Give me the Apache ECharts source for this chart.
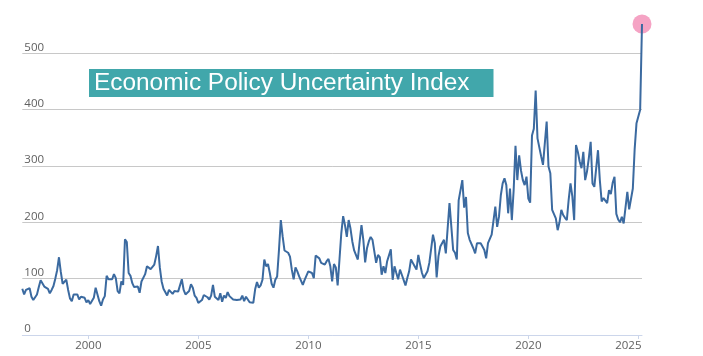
<!DOCTYPE html>
<html><head><meta charset="utf-8">
<script src="https://cdn.jsdelivr.net/npm/echarts@6/dist/echarts.min.js"></script>
<style>html,body{margin:0;padding:0;background:#fff}#c{width:703px;height:356px}</style>
</head><body><div id="c"></div>
<script>
// Monthly values, Jan 1997 .. Mar 2025
const startYear = 1997;
const epu1997 = [82,72,80,77,83,68,62,64,72,85,97,94];
const epu1998 = [86,83,82,74,80,87,100,115,138,112,91,89];
const epu1999 = [98,80,65,60,72,73,72,63,68,67,66,58];
const epu2000 = [62,55,58,66,84,82,60,52,63,69,105,99];
const epu2001 = [97,99,108,101,78,74,95,89,170,165,110,105];
const epu2002 = [92,85,83,86,75,95,98,108,122,119,117,120];
const epu2003 = [125,140,158,120,95,82,80,70,80,78,73,78];
const epu2004 = [78,77,77,99,80,72,71,78,90,84,70,66];
const epu2005 = [57,60,62,71,69,67,63,70,89,68,67,62];
const epu2006 = [74,59,70,66,76,69,66,63,64,62,61,63];
const epu2007 = [70,60,68,66,58,57,57,81,94,84,88,98];
const epu2008 = [134,122,126,110,91,84,98,104,151,204,175,150];
const epu2009 = [149,146,139,116,99,120,113,104,107,89,98,101];
const epu2010 = [113,116,110,101,141,139,136,128,125,125,131,135];
const epu2011 = [122,95,126,120,88,134,181,211,195,174,204,189];
const epu2012 = [166,150,150,134,166,195,169,129,154,166,174,169];
const epu2013 = [168,128,142,138,107,122,110,131,134,152,98,122];
const epu2014 = [110,99,116,107,107,88,101,113,134,128,122,116];
const epu2015 = [142,125,110,101,103,113,128,131,178,163,102,140];
const epu2016 = [157,160,169,145,148,234,231,151,146,134,239,239];
const epu2017 = [275,226,245,181,169,170,154,145,163,160,163,157];
const epu2018 = [151,136,163,166,178,181,228,192,210,248,269,278];
const epu2019 = [266,216,260,204,257,336,275,319,292,275,266,281];
const epu2020 = [242,235,354,366,434,349,352,317,302,305,379,299];
const epu2021 = [287,222,222,207,186,200,222,213,208,204,240,269];
const epu2022 = [246,204,337,325,308,296,325,275,290,314,343,269];
const epu2023 = [263,260,328,275,237,243,246,234,257,250,270,281];
const epu2024 = [215,205,200,210,198,198,254,223,225,260,330,376];
const epu2025 = [376,400,552];

const yearly = [epu1997,epu1998,epu1999,epu2000,epu2001,epu2002,epu2003,epu2004,epu2005,epu2006,
  epu2007,epu2008,epu2009,epu2010,epu2011,epu2012,epu2013,epu2014,epu2015,epu2016,epu2017,epu2018,
  epu2019,epu2020,epu2021,epu2022,epu2023,epu2024,epu2025];
const xTickYears = [2000,2005,2010,2015,2020,2025];
const yMin = 0, yMax = 500, yStep = 100;
const titleText = 'Economic Policy Uncertainty Index';

const categories = [];
const values = [];
yearly.forEach((arr, i) => arr.forEach((v, j) => {
  categories.push((startYear + i) + '-' + String(j + 1).padStart(2, '0'));
  values.push(v);
}));
const lastIdx = values.length - 1;
const isTick = (v) => v.slice(5) === '01' && xTickYears.indexOf(+v.slice(0, 4)) >= 0;
const lastTickYear = xTickYears[xTickYears.length - 1];

const chart = echarts.init(document.getElementById('c'), null, {renderer: 'canvas'});
const labelFont = {color: '#606060', fontSize: 11.5, fontFamily: 'Open Sans'};
chart.setOption({
  animation: false,
  grid: {left: 22.3, right: 61, top: 53.3, bottom: 21, containLabel: false},
  title: {
    text: titleText, left: 89, top: 69, padding: [2, 24, 2, 5],
    backgroundColor: '#41a7ab',
    textStyle: {color: '#ffffff', fontSize: 24.4, fontWeight: 'normal', fontFamily: 'Liberation Sans, Arial', lineHeight: 24}
  },
  xAxis: {
    type: 'category', data: categories, boundaryGap: false,
    axisLine: {lineStyle: {color: '#ccd6eb', width: 1}},
    axisTick: {show: true, length: 4, interval: (i, v) => isTick(v), lineStyle: {color: '#ccd6eb'}},
    axisLabel: Object.assign({
      interval: (i, v) => isTick(v), margin: 5,
      formatter: (v) => { const y = v.slice(0, 4); return +y === lastTickYear ? '{s|' + y + '}' : y; },
      rich: {s: Object.assign({padding: [0, 20, 0, 0]}, labelFont)}
    }, labelFont),
    splitLine: {show: false}
  },
  yAxis: {
    type: 'value', min: yMin, max: yMax, interval: yStep,
    axisLine: {show: false}, axisTick: {show: false},
    axisLabel: Object.assign({inside: true, margin: 2, verticalAlign: 'bottom'}, labelFont),
    splitLine: {showMinLine: false, lineStyle: {color: '#c8c8c8', width: 1}}
  },
  series: [
    {type: 'scatter', data: [[lastIdx, values[lastIdx]]], symbolSize: 19, z: 1, clip: false, silent: true,
     itemStyle: {color: '#f5a3c4', opacity: 1}},
    {type: 'line', data: values, showSymbol: false, clip: false, z: 2,
     lineStyle: {color: '#3b6aa0', width: 2}}
  ]
});
</script></body></html>
